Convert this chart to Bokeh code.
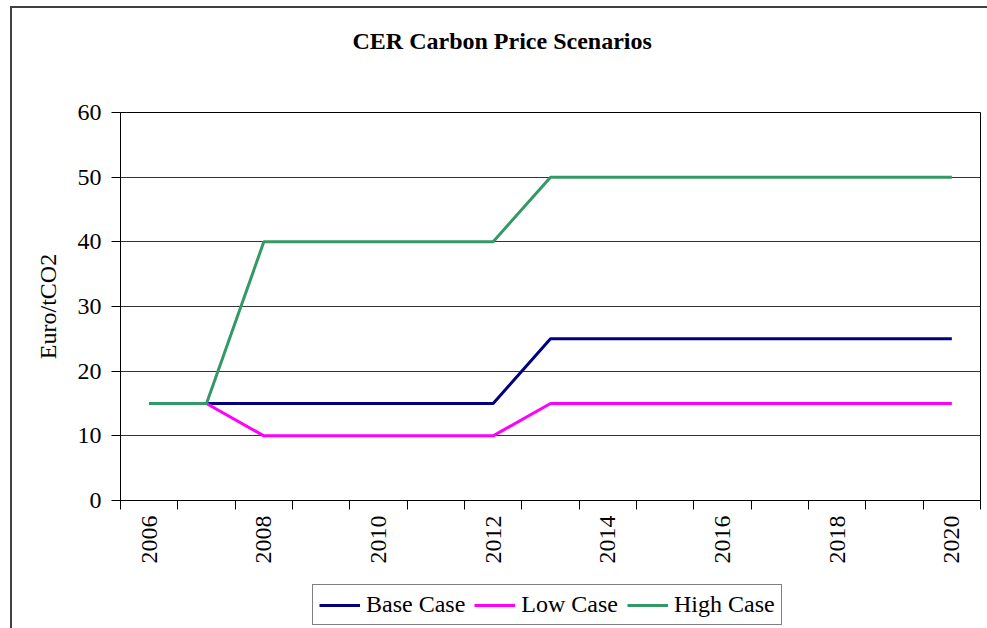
import math
from bokeh.plotting import figure
from bokeh.layouts import column
from bokeh.models import FixedTicker, Legend, LegendItem, Range1d, Label
from bokeh.embed import file_html
from bokeh.resources import INLINE

# ---- data ----
years = list(range(2006, 2021))
base_case = [15, 15, 15, 15, 15, 15, 15, 25, 25, 25, 25, 25, 25, 25, 25]
low_case = [15, 15, 10, 10, 10, 10, 10, 15, 15, 15, 15, 15, 15, 15, 15]
high_case = [15, 15, 40, 40, 40, 40, 40, 50, 50, 50, 50, 50, 50, 50, 50]
y_ticks = [0, 10, 20, 30, 40, 50, 60]
x_label_years = [2006, 2008, 2010, 2012, 2014, 2016, 2018, 2020]
series_names = ["Base Case", "Low Case", "High Case"]
series_colors = ["#000080", "#FF00FF", "#339966"]
title_text = "CER Carbon Price Scenarios"
y_label = "Euro/tCO2"

FONT = "Liberation Serif"
W = 987

# ---------- title strip ----------
tf = figure(width=W, height=92, min_border=0,
            x_axis_location=None, y_axis_location=None,
            x_range=Range1d(0, 1), y_range=Range1d(0, 1),
            output_backend="svg", toolbar_location=None,
            background_fill_alpha=0, border_fill_alpha=0)
tf.grid.visible = False
tf.outline_line_color = None
tf.add_layout(Label(x=232, y=52, x_units="screen", y_units="screen", text=title_text,
                    text_font=FONT, text_font_style="bold", text_font_size="24px",
                    text_align="left", text_baseline="middle", text_color="black"))

# ---------- main chart ----------
p = figure(frame_width=860, frame_height=388,
           min_border_left=120, min_border_right=7,
           min_border_top=20, min_border_bottom=84,
           x_range=Range1d(years[0] - 0.5, years[-1] + 0.5),
           y_range=Range1d(0, 60),
           output_backend="svg", toolbar_location=None,
           background_fill_color="white", border_fill_alpha=0)

p.outline_line_color = "black"
p.outline_line_width = 1

p.xgrid.visible = False
p.ygrid.ticker = FixedTicker(ticks=y_ticks)
p.ygrid.grid_line_color = "#333333"
p.ygrid.grid_line_width = 1

p.yaxis.ticker = FixedTicker(ticks=y_ticks)
p.yaxis.axis_line_color = "black"
p.yaxis.major_tick_out = 9
p.yaxis.major_tick_in = 0
p.yaxis.minor_tick_out = 0
p.yaxis.minor_tick_in = 0
p.yaxis.major_tick_line_color = "black"
p.yaxis.major_label_text_font = FONT
p.yaxis.major_label_text_font_size = "24px"
p.yaxis.major_label_text_color = "black"
p.yaxis.major_label_standoff = 10
p.yaxis.axis_label = y_label
p.yaxis.axis_label_text_font = FONT
p.yaxis.axis_label_text_font_style = "normal"
p.yaxis.axis_label_text_font_size = "24px"
p.yaxis.axis_label_text_color = "black"
p.yaxis.axis_label_standoff = 14

minor = [y - 0.5 for y in years] + [years[-1] + 0.5]
p.xaxis.axis_label = None
p.xaxis.ticker = FixedTicker(ticks=x_label_years, minor_ticks=minor)
p.xaxis.axis_line_color = "black"
p.xaxis.major_tick_out = 0
p.xaxis.major_tick_in = 0
p.xaxis.minor_tick_out = 9
p.xaxis.minor_tick_in = 0
p.xaxis.minor_tick_line_color = "black"
p.xaxis.major_label_orientation = math.pi / 2
p.xaxis.major_label_text_font = FONT
p.xaxis.major_label_text_font_size = "24px"
p.xaxis.major_label_text_color = "black"
p.xaxis.major_label_standoff = 6

series = [base_case, low_case, high_case]
for vals, color in zip(series, series_colors):
    p.line(years, vals, line_color=color, line_width=3)

# ---------- legend strip ----------
lf = figure(width=W, height=44, min_border=0,
            x_axis_location=None, y_axis_location=None,
            x_range=Range1d(years[0], years[-1]), y_range=Range1d(100, 200),
            output_backend="svg", toolbar_location=None,
            background_fill_alpha=0, border_fill_alpha=0)
lf.grid.visible = False
lf.outline_line_color = None
leg_renderers = [lf.line(years, vals, line_color=color, line_width=3)
                 for vals, color in zip(series, series_colors)]
legend = Legend(items=[LegendItem(label=n, renderers=[r]) for n, r in zip(series_names, leg_renderers)],
                orientation="horizontal", location=(192, 3),
                label_text_font=FONT, label_text_font_size="24px", label_text_color="black",
                glyph_width=41, glyph_height=20, label_standoff=6, spacing=9,
                padding=6, margin=0,
                border_line_color="black", border_line_width=1,
                background_fill_color="white", background_fill_alpha=1.0)
lf.add_layout(legend)

layout = column(tf, p, lf, spacing=0, styles={
    "background-color": "white",
    "background-image": "linear-gradient(#404040, #404040), linear-gradient(#404040, #404040)",
    "background-size": "2px 100%, 100% 2px",
    "background-position": "10px 6px, 10px 6px",
    "background-repeat": "no-repeat",
})

open("out.html", "w").write(file_html(layout, INLINE))
